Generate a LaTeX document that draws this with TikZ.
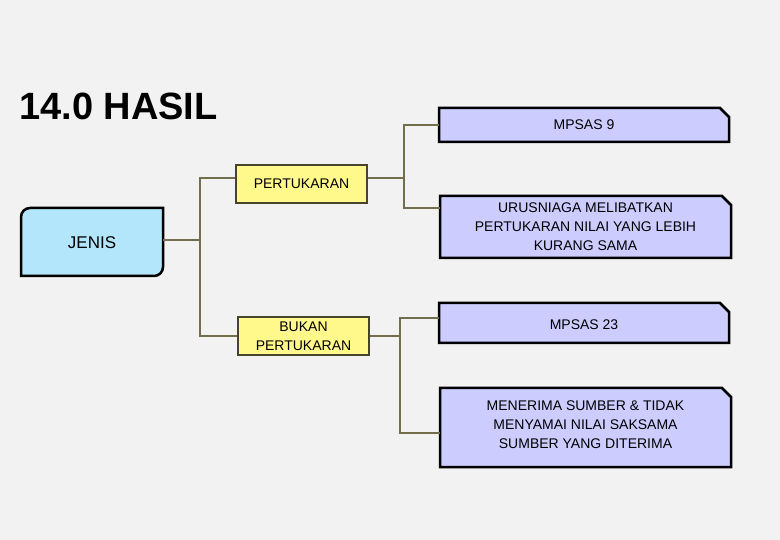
\documentclass[tikz,border=0pt]{standalone}
\usepackage{fontspec}
\setmainfont{Liberation Sans}
\begin{document}
\begin{tikzpicture}[x=1pt,y=-1pt,
  txt/.style={font=\fontsize{14}{19}\selectfont,align=center,inner sep=0pt},
  conn/.style={draw=black!45!olive!60!gray,line width=1.2pt}]
\useasboundingbox (0,0) rectangle (780,540);
\fill[black!5] (0,0) rectangle (780,540);
\node[anchor=west,inner sep=0pt,font=\bfseries\fontsize{38}{40}\selectfont] (title) at (19,106) {14.0 HASIL};
% JENIS
\draw[fill=cyan!30,line width=2.5pt] (21,217) arc[start angle=180,end angle=270,radius=9] -- (163,208) -- (163,267) arc[start angle=0,end angle=90,radius=9] -- (21,276) -- cycle;
\node[txt,font=\fontsize{17}{19}\selectfont] (jenis) at (92,243) {JENIS};
\coordinate (jenisR) at (163,240);
% yellow
\tikzset{ybox/.style={draw=black!65!olive,fill=yellow!45,line width=2.5pt,minimum width=131pt,minimum height=38pt,txt}}
\node[ybox] (pert) at (301.5,184) {PERTUKARAN};
\node[ybox] (bukan) at (303.5,336) {BUKAN\\PERTUKARAN};
% purple
\newcommand{\cutbox}[5]{%
  \draw[fill=blue!20,line width=2.5pt] (#1,#2) -- (#3-9,#2) -- (#3,#2+9) -- (#3,#4) -- (#1,#4) -- cycle;
  \node[txt] (#5) at ({(#1+#3)/2},{(#2+#4)/2}) {\vphantom{A}};}
\cutbox{439}{108}{729}{142}{m9}
\node[txt] at (m9) {MPSAS 9};
\cutbox{440}{196}{731}{258}{uru}
\node[txt] at (uru) {URUSNIAGA MELIBATKAN\\PERTUKARAN NILAI YANG LEBIH\\KURANG SAMA};
\cutbox{439}{303}{729}{343}{m23}
\node[txt] at ([yshift=-2pt]m23) {MPSAS 23};
\cutbox{440}{388}{731}{467}{men}
\node[txt] at ([yshift=3pt]men) {MENERIMA SUMBER \& TIDAK\\MENYAMAI NILAI SAKSAMA\\SUMBER YANG DITERIMA};
% connectors
\draw[conn] (jenisR) -- (200,240);
\draw[conn] (pert.west |- 0,178) -- (200,178) -- (200,336) -- (bukan.west |- 0,336);
\draw[conn] (pert.east |- 0,178) -- (404,178);
\draw[conn] (439,125) -- (404,125) -- (404,208) -- (440,208);
\draw[conn] (bukan.east |- 0,336) -- (400,336);
\draw[conn] (439,318) -- (400,318) -- (400,433) -- (440,433);
\end{tikzpicture}
\end{document}
